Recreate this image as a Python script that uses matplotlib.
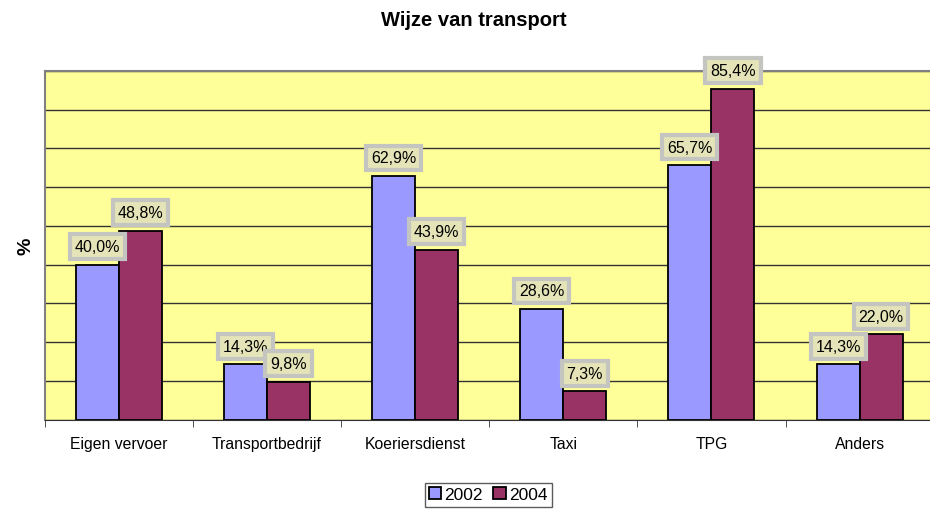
import numpy as np
import matplotlib
matplotlib.use("Agg")
import matplotlib.pyplot as plt

plt.rcParams["font.family"] = ["Liberation Sans", "DejaVu Sans"]

# data
categories = ["Eigen vervoer", "Transportbedrijf", "Koeriersdienst", "Taxi", "TPG", "Anders"]
vals_2002 = [40.0, 14.3, 62.9, 28.6, 65.7, 14.3]
vals_2004 = [48.8, 9.8, 43.9, 7.3, 85.4, 22.0]
series_names = ["2002", "2004"]

fig = plt.figure(figsize=(9.3, 5.1), dpi=100)
ax = fig.add_axes([0.048, 0.175, 0.956, 0.684])
ax.set_facecolor("#FFFF99")

x = np.arange(len(categories))
w = 0.29
b1 = ax.bar(x - w / 2, vals_2002, w, color="#9999FF", edgecolor="black",
            linewidth=1.3, label=series_names[0], zorder=3)
b2 = ax.bar(x + w / 2, vals_2004, w, color="#993366", edgecolor="black",
            linewidth=1.3, label=series_names[1], zorder=3)

# value labels in grey boxes above the bars
box = dict(boxstyle="square,pad=0.3", facecolor="#E4E4B8", edgecolor="#C4C4C0", linewidth=3)
for bars in (b1, b2):
    for rect in bars:
        v = rect.get_height()
        ax.annotate(f"{v:.1f}%".replace(".", ","),
                    (rect.get_x() + rect.get_width() / 2, v),
                    xytext=(0, 18), textcoords="offset pixels",
                    ha="center", va="center", fontsize=11.5, bbox=box, zorder=4)

ax.set_ylim(0, 90)
ax.set_xlim(-0.5, len(categories) - 0.5)
ax.set_yticks(np.arange(0, 91, 10))
ax.set_yticklabels([])
ax.tick_params(axis="y", length=0)
ax.yaxis.grid(True, color="#333333", linewidth=1)
ax.set_axisbelow(True)

ax.set_xticks(x)
ax.set_xticklabels(categories, fontsize=11.3)
ax.set_xticks(np.arange(-0.5, len(categories), 1), minor=True)
ax.tick_params(axis="x", which="major", length=0, pad=12)
ax.tick_params(axis="x", which="minor", length=5, color="#333333")

for s in ("left", "top"):
    ax.spines[s].set_color("#808080")
    ax.spines[s].set_linewidth(1.5)
ax.spines["right"].set_visible(False)
ax.spines["bottom"].set_color("#333333")

ax.set_ylabel("%", fontsize=14, fontweight="bold", labelpad=4)
fig.suptitle("Wijze van transport", x=0.509, y=0.978, fontsize=14.5, fontweight="bold")

leg = fig.legend(handles=[b1, b2], labels=series_names, loc="center",
                 bbox_to_anchor=(0.525, 0.028), ncol=2, frameon=True, fancybox=False,
                 fontsize=12.5, handlelength=0.7, handleheight=0.7, handletextpad=0.2,
                 columnspacing=0.6, borderpad=0.25)
leg.get_frame().set_edgecolor("#333333")
leg.get_frame().set_linewidth(1)

fig.savefig("out.png", dpi=100)
